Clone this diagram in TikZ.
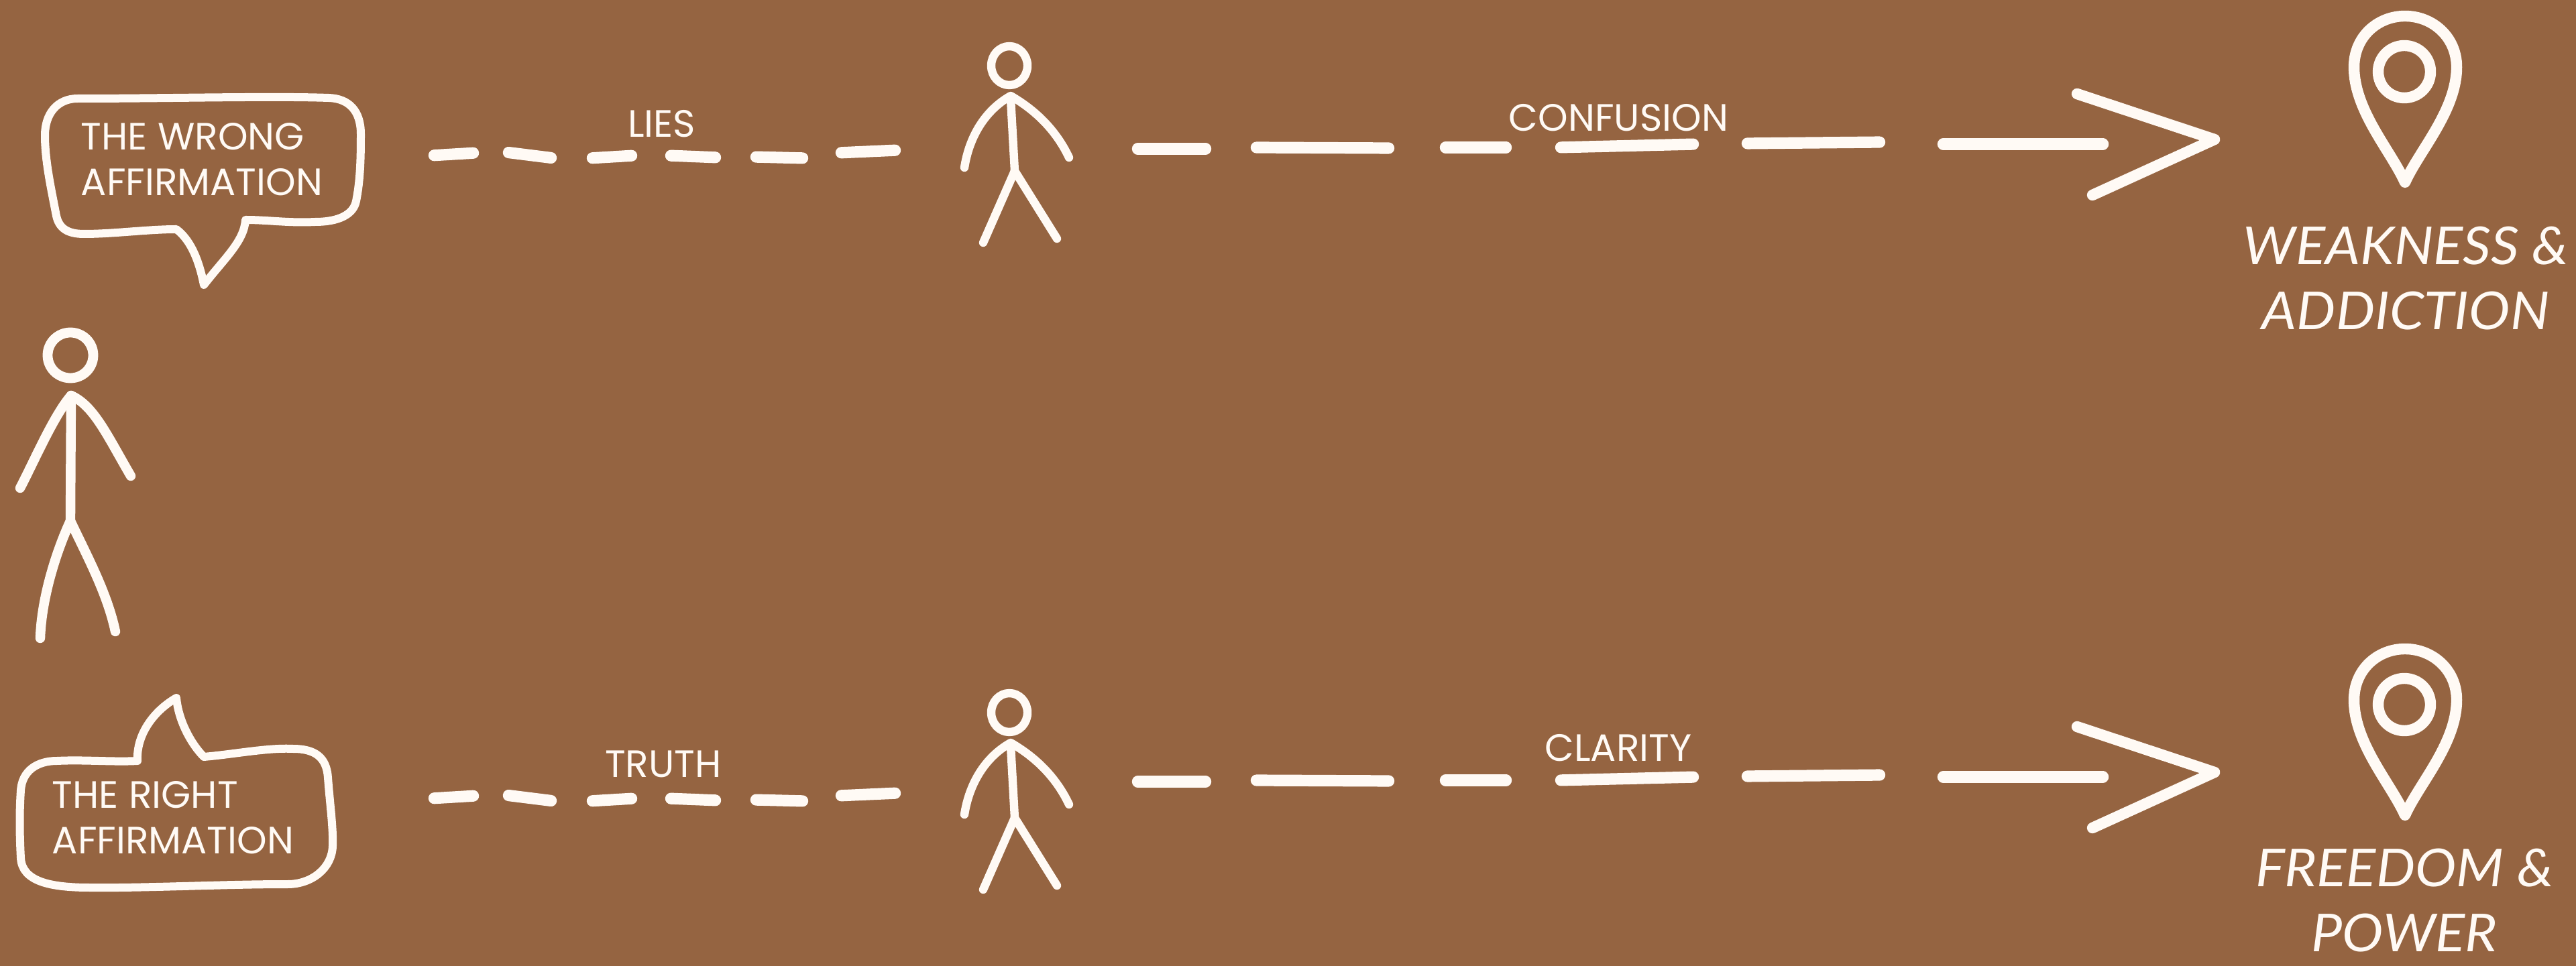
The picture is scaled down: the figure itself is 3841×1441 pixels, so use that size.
\documentclass[tikz,border=0pt]{standalone}
\usepackage{fontspec}
\setmainfont{Liberation Sans}
\newfontfamily\labelfont{Poppins}
\newfontfamily\placefont[FakeStretch=1.055]{Lato}
\definecolor{bgbrown}{HTML}{956441}
\definecolor{chalk}{HTML}{FFFAF5}
\tikzset{
  x=0.25pt,y=-0.25pt,
  thinline/.style={draw=chalk,line width=3.1pt,line cap=round,line join=round},
  pinline/.style={draw=chalk,line width=4.1pt,line cap=round,line join=round},
  dashseg/.style={draw=chalk,line width=4.3pt,line cap=round,shorten <=1.1pt,shorten >=1.1pt},
  bubbleline/.style={draw=chalk,line width=3pt,line cap=round,line join=round},
  bubbletext/.style={text=chalk,inner sep=0pt,align=left,font=\labelfont\fontsize{14.2}{17}\selectfont},
  flowlabel/.style={text=chalk,inner sep=0pt,font=\labelfont\fontsize{14.2}{17}\selectfont},
  placetext/.style={text=chalk,inner sep=0pt,align=center,font=\placefont\itshape\fontsize{19.5}{24.25}\selectfont},
}
\newcommand{\smallperson}{
  \draw[thinline] (1505,98) ellipse [x radius=27,y radius=29];
  \draw[thinline] (1438,250) .. controls (1445,205) and (1468,165) .. (1507,143)
     .. controls (1545,165) and (1575,195) .. (1594,235);
  \draw[thinline] (1507,147) -- (1513,255);
  \draw[thinline] (1466,362) -- (1513,255) -- (1576,356);
}
\newcommand{\leftdashes}{
  \foreach \ax/\ay/\bx/\by in {643/232/710/228,754/227/826/236,879/236/946/232,996/232/1071/235,1123/234/1201/236,1250/228/1339/224}
    {\draw[dashseg] (\ax,\ay) -- (\bx,\by);}
}
\newcommand{\rightpart}{
  \foreach \ax/\ay/\bx/\by in {1692/222/1802/222,1869/220/2075/221,2151/220/2250/220,2323/220/2529/215,2601/214/2807/212,2893/215/3140/215}
    {\draw[dashseg] (\ax,\ay) -- (\bx,\by);}
  \draw[pinline] (3097,140) -- (3302,208) -- (3120,291);
  \draw[pinline] (3586,272) .. controls (3565,225) and (3510,165) .. (3510,100)
     .. controls (3510,55) and (3545,24) .. (3586,24)
     .. controls (3627,24) and (3663,55) .. (3663,100)
     .. controls (3663,165) and (3607,225) .. (3586,272) -- cycle;
  \draw[pinline] (3585,107) circle [radius=39];
}
\begin{document}
\begin{tikzpicture}
\useasboundingbox (0,0) rectangle (3841,1441);
\fill[bgbrown] (0,0) rectangle (3841,1441);

% large figure
\draw[thinline,line width=3.7pt] (105,530) circle [radius=34];
\draw[thinline,line width=3.6pt] (30,728) .. controls (50,690) and (80,620) .. (106,590)
   .. controls (140,605) and (160,650) .. (195,710);
\draw[thinline,line width=3.6pt] (106,590) -- (105,775);
\draw[thinline,line width=3.6pt] (60,952) .. controls (62,890) and (85,820) .. (105,777)
   .. controls (130,830) and (160,885) .. (172,942);

% upper speech bubble
\draw[bubbleline] (263,342) .. controls (220,342) and (170,349) .. (125,349)
  .. controls (100,349) and (88,340) .. (84,322)
  .. controls (76,280) and (67,240) .. (67,202)
  .. controls (67,170) and (85,147) .. (116,147)
  .. controls (250,147) and (400,143) .. (490,146)
  .. controls (520,147) and (538,165) .. (538,200)
  .. controls (538,240) and (537,270) .. (531,300)
  .. controls (527,320) and (505,331) .. (470,331)
  .. controls (430,333) and (400,328) .. (366,328)
  .. controls (364,360) and (335,385) .. (304,425)
  .. controls (298,395) and (287,360) .. (263,342) -- cycle;
\node[bubbletext] (wrong) at (301,238) {THE WRONG\\AFFIRMATION};

% lower speech bubble
\draw[bubbleline] (304,1129) .. controls (350,1125) and (400,1115) .. (437,1117)
  .. controls (470,1117) and (487,1130) .. (489,1160)
  .. controls (492,1200) and (497,1235) .. (496,1262)
  .. controls (495,1295) and (465,1319) .. (429,1319)
  .. controls (330,1319) and (220,1325) .. (134,1324)
  .. controls (75,1324) and (33,1315) .. (31,1280)
  .. controls (29,1240) and (29,1210) .. (31,1179)
  .. controls (33,1150) and (55,1135) .. (85,1135)
  .. controls (125,1133) and (170,1137) .. (205,1135)
  .. controls (203,1095) and (230,1060) .. (263,1041)
  .. controls (266,1075) and (285,1110) .. (304,1129) -- cycle;
\node[bubbletext] (right) at (258,1220) {THE RIGHT\\AFFIRMATION};

% upper row
\leftdashes
\smallperson
\rightpart
% lower row
\begin{scope}[shift={(0,959)}]\leftdashes\end{scope}
\begin{scope}[shift={(0,965)}]\smallperson\end{scope}
\begin{scope}[shift={(0,944)}]\rightpart\end{scope}

\node[flowlabel] (lies) at (986.5,184.5) {LIES};
\node[flowlabel] (truth) at (989,1139.5) {TRUTH};
\node[flowlabel] (confusion) at (2413.5,175.5) {CONFUSION};
\node[flowlabel] (clarity) at (2413,1116) {CLARITY};
\node[placetext] (weak) at (3587,415.5) {WEAKNESS \&\\ADDICTION};
\node[placetext] (free) at (3585,1343) {FREEDOM \&\\POWER};
\end{tikzpicture}
\end{document}
